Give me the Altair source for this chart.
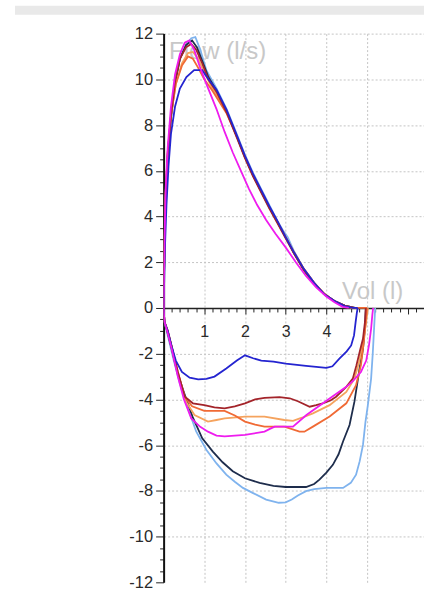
import altair as alt
import pandas as pd

# ---------------- data (volume in l, flow in l/s) ----------------
names = ["light blue", "navy", "light orange", "orange", "maroon", "blue", "magenta"]
colors = ["#7fb3ee", "#1e2d4c", "#f5a35e", "#f06a35", "#a3242a", "#2424d0", "#ee1cee"]

# expiratory limbs
lb_ev = [0, 0.02, 0.05, 0.1, 0.18, 0.28, 0.4, 0.55, 0.68, 0.78, 0.9, 1.05, 1.3, 1.55, 1.8, 2.0, 2.2, 2.4, 2.6, 2.8, 2.95, 3.05, 3.2, 3.45, 3.7, 3.95, 4.2, 4.45, 4.7]
lb_ef = [0, 2.5, 4.8, 6.6, 8.3, 9.8, 10.9, 11.5, 11.8, 11.85, 11.3, 10.4, 9.6, 8.7, 7.6, 6.7, 5.9, 5.2, 4.5, 3.8, 3.35, 3.1, 2.5, 1.7, 1.1, 0.62, 0.3, 0.1, 0]
nv_ev = [0, 0.02, 0.05, 0.1, 0.18, 0.28, 0.4, 0.55, 0.7, 0.82, 0.95, 1.1, 1.3, 1.55, 1.8, 2.0, 2.2, 2.4, 2.6, 2.8, 3.0, 3.2, 3.45, 3.7, 3.95, 4.2, 4.45, 4.7]
nv_ef = [0, 2.5, 4.8, 6.6, 8.3, 9.8, 10.9, 11.5, 11.7, 11.4, 10.8, 10.1, 9.5, 8.6, 7.5, 6.6, 5.8, 5.1, 4.4, 3.75, 3.1, 2.4, 1.65, 1.05, 0.6, 0.3, 0.1, 0]
lo_ev = [0, 0.02, 0.05, 0.1, 0.18, 0.3, 0.45, 0.6, 0.72, 0.85, 1.0, 1.2, 1.55, 1.8, 2.0, 2.2, 2.4, 2.6, 2.8, 3.0, 3.2, 3.45, 3.7, 3.95, 4.2, 4.45, 4.65]
lo_ef = [0, 2.7, 5.0, 6.8, 8.4, 9.8, 10.7, 11.15, 11.2, 10.9, 10.3, 9.6, 8.6, 7.5, 6.6, 5.8, 5.1, 4.4, 3.75, 3.1, 2.45, 1.7, 1.1, 0.62, 0.3, 0.08, 0]
or_ev = [0, 0.02, 0.05, 0.1, 0.18, 0.3, 0.45, 0.6, 0.72, 0.85, 1.0, 1.2, 1.55, 1.8, 2.0, 2.2, 2.4, 2.6, 2.8, 3.0, 3.2, 3.45, 3.7, 3.95, 4.2, 4.45, 4.6, 5.0]
or_ef = [0, 2.8, 5.0, 6.8, 8.4, 9.8, 10.6, 11.0, 10.9, 10.5, 10.0, 9.5, 8.5, 7.5, 6.6, 5.8, 5.1, 4.4, 3.75, 3.1, 2.45, 1.7, 1.1, 0.62, 0.3, 0.08, 0, 0]
mr_ev = [0, 0.02, 0.05, 0.1, 0.18, 0.28, 0.4, 0.55, 0.68, 0.8, 0.95, 1.1, 1.3, 1.55, 1.8, 2.0, 2.2, 2.4, 2.6, 2.8, 3.0, 3.2, 3.45, 3.7, 3.95, 4.2, 4.45, 4.7]
mr_ef = [0, 2.6, 4.9, 6.7, 8.4, 9.9, 10.9, 11.4, 11.55, 11.3, 10.7, 10.0, 9.45, 8.55, 7.45, 6.55, 5.75, 5.05, 4.35, 3.7, 3.05, 2.4, 1.65, 1.05, 0.6, 0.3, 0.1, 0]
bl_ev = [0, 0.03, 0.07, 0.12, 0.18, 0.28, 0.4, 0.56, 0.75, 0.95, 1.1, 1.3, 1.55, 1.8, 2.0, 2.2, 2.4, 2.6, 2.8, 3.0, 3.2, 3.45, 3.7, 3.95, 4.2, 4.45, 4.65, 4.77]
bl_ef = [0, 2.5, 4.5, 6.2, 7.6, 8.8, 9.6, 10.1, 10.4, 10.4, 10.0, 9.55, 8.65, 7.55, 6.65, 5.85, 5.15, 4.45, 3.8, 3.1, 2.45, 1.7, 1.1, 0.6, 0.3, 0.08, 0, 0]
mg_ev = [0, 0.02, 0.05, 0.1, 0.18, 0.28, 0.4, 0.52, 0.63, 0.75, 0.9, 1.05, 1.3, 1.5, 1.7, 1.9, 2.1, 2.3, 2.52, 2.75, 3.0, 3.25, 3.5, 3.75, 4.0, 4.2, 4.4, 4.55]
mg_ef = [0, 2.8, 5.2, 7.0, 8.8, 10.2, 11.1, 11.6, 11.7, 11.3, 10.5, 9.8, 8.7, 7.7, 6.8, 6.0, 5.2, 4.5, 3.85, 3.25, 2.65, 2.0, 1.4, 0.9, 0.5, 0.25, 0.05, 0]

# inspiratory limbs
lb_iv = [0, 0.02, 0.1, 0.25, 0.4, 0.56, 0.8, 1.05, 1.3, 1.54, 1.75, 1.95, 2.2, 2.52, 2.83, 3.0, 3.15, 3.3, 3.5, 3.7, 4.0, 4.41, 4.6, 4.73, 4.82, 4.9, 4.96, 5.02, 5.1, 5.14, 5.17, 5.2]
lb_if = [0, -0.6, -1.2, -2.3, -3.3, -4.2, -5.4, -6.2, -6.8, -7.29, -7.6, -7.87, -8.1, -8.38, -8.52, -8.5, -8.38, -8.2, -8.01, -7.92, -7.87, -7.87, -7.65, -7.29, -6.7, -5.99, -5.0, -4.25, -3.09, -2.0, -1.0, 0]
nv_iv = [0, 0.02, 0.1, 0.2, 0.35, 0.5, 0.72, 0.95, 1.21, 1.45, 1.7, 2.0, 2.36, 2.7, 3.0, 3.5, 3.7, 3.83, 4.0, 4.16, 4.3, 4.41, 4.57, 4.69, 4.76, 4.82, 4.9, 4.95, 4.97]
nv_if = [0, -0.6, -1.1, -1.8, -2.9, -3.7, -4.8, -5.7, -6.28, -6.75, -7.14, -7.45, -7.65, -7.78, -7.83, -7.83, -7.7, -7.51, -7.2, -6.86, -6.4, -5.84, -5.12, -4.1, -3.3, -2.6, -1.8, -0.8, 0]
lo_iv = [0, 0.02, 0.1, 0.2, 0.35, 0.55, 0.76, 1.09, 1.3, 1.5, 2.0, 2.48, 2.97, 3.18, 3.4, 3.67, 4.08, 4.49, 4.69, 4.8, 4.9, 4.98, 5.02]
lo_if = [0, -0.6, -1.0, -1.7, -2.9, -4.1, -4.68, -4.97, -4.9, -4.83, -4.75, -4.75, -4.9, -4.94, -4.8, -4.61, -4.25, -3.67, -3.09, -2.4, -1.5, -0.6, 0]
or_iv = [5.0, 4.97, 4.92, 4.85, 4.73, 4.49, 4.08, 3.67, 3.46, 3.34, 2.97, 2.48, 2.25, 2.0, 1.75, 1.5, 1.0, 0.7, 0.52, 0.35, 0.2, 0.1, 0.02, 0]
or_if = [0, -0.6, -1.5, -2.5, -3.38, -4.17, -4.75, -5.19, -5.41, -5.41, -5.19, -5.19, -5.1, -4.97, -4.7, -4.5, -4.5, -4.3, -3.9, -2.8, -1.7, -1.0, -0.6, 0]
mr_iv = [0, 0.02, 0.1, 0.2, 0.35, 0.52, 0.72, 1.0, 1.25, 1.5, 1.75, 2.0, 2.25, 2.48, 2.85, 3.1, 3.3, 3.59, 3.75, 3.91, 4.1, 4.24, 4.49, 4.65, 4.74, 4.85, 4.9, 4.95, 4.97]
mr_if = [0, -0.6, -1.0, -1.7, -2.8, -3.88, -4.17, -4.25, -4.35, -4.39, -4.3, -4.17, -4.0, -3.93, -3.9, -3.95, -4.08, -4.32, -4.25, -4.17, -4.05, -3.88, -3.45, -3.09, -2.5, -1.7, -1.35, -0.6, 0]
bl_iv = [0, 0.02, 0.1, 0.2, 0.3, 0.45, 0.64, 0.85, 1.05, 1.25, 1.54, 1.8, 2.0, 2.2, 2.4, 2.7, 3.0, 3.5, 4.0, 4.15, 4.32, 4.5, 4.61, 4.68, 4.72, 4.75, 4.77]
bl_if = [0, -0.6, -1.0, -1.7, -2.3, -2.8, -3.05, -3.12, -3.1, -3.0, -2.65, -2.3, -2.07, -2.2, -2.3, -2.35, -2.43, -2.53, -2.62, -2.55, -2.22, -1.9, -1.64, -1.2, -0.61, -0.2, 0]
mg_iv = [0, 0.02, 0.1, 0.2, 0.35, 0.5, 0.68, 0.9, 1.09, 1.3, 1.5, 2.0, 2.48, 2.6, 2.73, 3.18, 3.51, 4.08, 4.49, 4.65, 4.85, 4.98, 5.05, 5.1, 5.13, 5.15]
mg_if = [0, -0.6, -1.1, -1.8, -3.0, -4.0, -4.83, -5.2, -5.41, -5.58, -5.62, -5.55, -5.41, -5.3, -5.19, -5.19, -4.68, -3.96, -3.45, -3.2, -2.8, -2.3, -1.6, -0.91, -0.3, 0]

series = {
    "light blue": (lb_ev, lb_ef, lb_iv, lb_if),
    "navy": (nv_ev, nv_ef, nv_iv, nv_if),
    "light orange": (lo_ev, lo_ef, lo_iv, lo_if),
    "orange": (or_ev, or_ef, or_iv, or_if),
    "maroon": (mr_ev, mr_ef, mr_iv, mr_if),
    "blue": (bl_ev, bl_ef, bl_iv, bl_if),
    "magenta": (mg_ev, mg_ef, mg_iv, mg_if),
}

rows = []
for rank, name in enumerate(names):
    ev, ef, iv, fi = series[name]
    for i, (v, f) in enumerate(zip(ev, ef)):
        rows.append({"curve": name, "seg": f"{rank}_{name}_exp", "vol": v, "flow": f, "idx": i})
    for i, (v, f) in enumerate(zip(iv, fi)):
        rows.append({"curve": name, "seg": f"{rank}_{name}_insp", "vol": v, "flow": f, "idx": i})
df = pd.DataFrame(rows)

x_ticks = [round(i * 0.2, 1) for i in range(0, 32)]
y_ticks = [i * 0.5 for i in range(-24, 25)]

W, H = 261, 550

is_int = "abs(datum.value - round(datum.value)) < 0.01"

x_axis = alt.Axis(
    values=x_ticks,
    offset=-H / 2,
    labelExpr=f"({is_int} && datum.value > 0.5 && datum.value < 4.5) ? '' + round(datum.value) : ''",
    labelOverlap=False,
    labelFont="Liberation Sans",
    labelFontSize=16,
    labelColor="#2a2a2a",
    labelPadding=10,
    tickColor="#222222",
    tickSize={"condition": {"test": is_int, "value": 6}, "value": 4},
    tickWidth=1,
    domainColor="#222222",
    domainWidth=1.5,
    grid=True,
    gridColor="#c4c4c4",
    gridDash=[2, 2],
    gridWidth=1,
    gridOpacity={"condition": {"test": f"{is_int} && datum.value > 0.5 && datum.value < 5.5", "value": 1}, "value": 0},
    title="Vol (l)",
    titleFont="Liberation Sans",
    titleFontSize=24,
    titleFontWeight="normal",
    titleColor="#c8c8c8",
    titleX=209,
    titleY=-16,
    titleAlign="center",
    titleBaseline="middle",
)

y_axis = alt.Axis(
    values=y_ticks,
    labelExpr="(datum.value % 2 === 0) ? '' + datum.value : ''",
    labelOverlap=False,
    labelFont="Liberation Sans",
    labelFontSize=16.5,
    labelColor="#2a2a2a",
    labelPadding=3,
    tickColor="#222222",
    tickSize={"condition": {"test": "datum.value % 2 === 0", "value": 8}, "value": 4},
    tickWidth=1,
    domainColor="#111111",
    domainWidth=2,
    grid=True,
    gridColor="#c4c4c4",
    gridDash=[2, 2],
    gridWidth=1,
    gridOpacity={"condition": {"test": "datum.value % 2 === 0 && datum.value !== 0 && datum.value !== -12", "value": 1}, "value": 0},
    title="Flow (l/s)",
    titleFont="Liberation Sans",
    titleFontSize=24,
    titleFontWeight="normal",
    titleColor="#c8c8c8",
    titleAngle=0,
    titleX=5,
    titleY=18,
    titleAlign="left",
    titleBaseline="middle",
)

lines = alt.Chart(df).mark_line(strokeWidth=1.8, clip=True, interpolate="linear").encode(
    x=alt.X("vol:Q", scale=alt.Scale(domain=[0, 6.4], nice=False, zero=False), axis=x_axis),
    y=alt.Y("flow:Q", scale=alt.Scale(domain=[-12, 12], nice=False), axis=y_axis),
    color=alt.Color("curve:N", scale=alt.Scale(domain=names, range=colors), legend=None),
    detail="seg:N",
    order="idx:Q",
)

band = alt.Chart(alt.Data(values=[{"k": 1}])).mark_rect(color="#e9e9e9", clip=False).encode(
    x=alt.value(-149), x2=alt.value(W), y=alt.value(-28), y2=alt.value(-19)
)

chart = alt.layer(band, lines).properties(
    width=W,
    height=H,
    autosize=alt.AutoSizeParams(type="none"),
    padding={"left": 164, "top": 33, "right": 0, "bottom": 8},
    background="white",
).configure_view(stroke=None)

chart.save("out.html", embed_options={"renderer": "svg", "actions": False})
